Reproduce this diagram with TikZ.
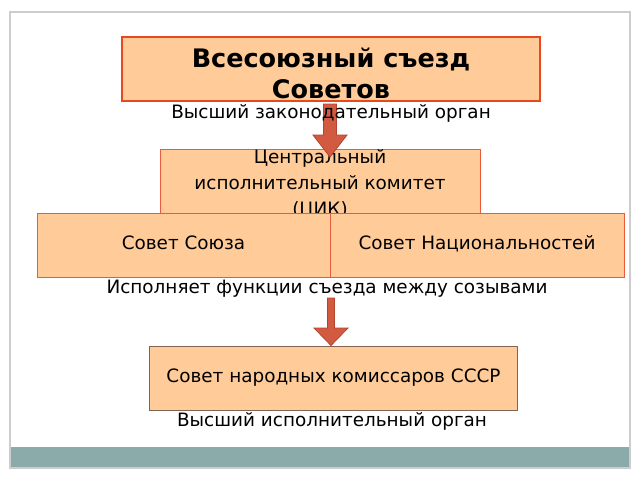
\documentclass[tikz,border=0pt]{standalone}
\usepackage{fontspec}
\setmainfont{DejaVu Sans}
\definecolor{peach}{RGB}{255,204,153}
\definecolor{topred}{RGB}{232,72,30}
\definecolor{boxred}{RGB}{234,90,60}
\definecolor{boxbrown}{RGB}{130,100,85}
\definecolor{arrowfill}{RGB}{210,90,64}
\definecolor{arrowdraw}{RGB}{180,68,46}
\definecolor{barteal}{RGB}{138,171,170}
\definecolor{framegray}{RGB}{205,205,205}
\begin{document}
\begin{tikzpicture}[x=1pt,y=-1pt,
  box/.style={draw=boxred, fill=peach, line width=1pt, inner sep=0pt, align=center,
    text height=13.5pt, text depth=4pt, font=\fontsize{18.4}{24}\selectfont},
  labeltext/.style={inner sep=0pt, text height=13.5pt, text depth=4pt,
    font=\fontsize{18.4}{22}\selectfont},
  blockarrow/.style={fill=arrowfill, draw=arrowdraw, line width=0.8pt, line join=miter}]
\useasboundingbox (0,0) rectangle (640,480);
\fill[white] (0,0) rectangle (640,480);
\draw[framegray, line width=1.2pt] (10,12) rectangle (630,468);
\fill[barteal] (10.6,447) rectangle (629.4,467.4);

% ЦИК
\node[draw=boxred, fill=peach, line width=1pt, inner sep=0pt, minimum width=320pt,
  minimum height=66pt] (cik) at (320,182) {};
\node[inner sep=0pt, align=center, font=\fontsize{18.4}{26}\selectfont] (ciktext) at (320,184)
  {Центральный\\исполнительный комитет\\(ЦИК)};
\node[box, minimum width=293pt, minimum height=64pt] (soyuz) at (183.5,245) {Совет Союза};
\node[box, minimum width=294pt, minimum height=64pt] (nats) at (477,245) {Совет Национальностей};

% top box
\node[draw=topred, fill=peach, line width=2pt, inner sep=0pt, minimum width=418pt,
  minimum height=64pt] (top) at (331,69) {};
\node[inner sep=0pt, align=center, font=\fontsize{25.5}{31}\bfseries\selectfont]
  (toptext) at (331,73) {Всесоюзный съезд\\Советов};

% arrow 1
\coordinate (a1) at (330,104);
\draw[blockarrow] ([xshift=-6.5pt]a1) -- ([xshift=6.5pt]a1) -- ++(0,31) -- ++(10.5,0)
  -- (330,157) -- (313,135) -- (323.5,135) -- cycle;
\node[labeltext] (l1) at (331,114) {Высший законодательный орган};
\node[labeltext] (l2) at (327,289) {Исполняет функции съезда между созывами};

% bottom box
\node[box, draw=boxbrown, minimum width=368pt, minimum height=64pt] (snk) at (333.5,378)
  {Совет народных комиссаров СССР};
% arrow 2
\coordinate (a2) at (331,298);
\draw[blockarrow] ([xshift=-3.5pt]a2) -- ([xshift=3.5pt]a2) -- ++(0,30) -- (348,328)
  -- (snk.north -| a2) -- (314,328) -- (327.5,328) -- cycle;
\node[labeltext] (l3) at (332,422) {Высший исполнительный орган};
\end{tikzpicture}
\end{document}
